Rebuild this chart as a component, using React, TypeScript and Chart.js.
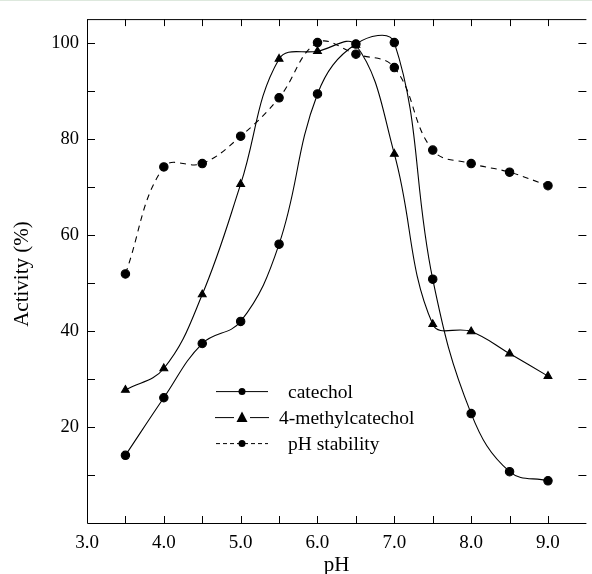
import React, { useEffect, useRef } from "react";
import { Chart, registerables } from "chart.js";

Chart.register(...registerables);

const pH = [3.5, 4.0, 4.5, 5.0, 5.5, 6.0, 6.5, 7.0, 7.5, 8.0, 8.5, 9.0];
const catechol = [14.1, 26.1, 37.4, 42.0, 58.1, 89.4, 99.8, 100.1, 50.8, 22.8, 10.7, 8.8];
const methylcatechol = [27.7, 32.2, 47.6, 70.6, 96.7, 98.3, 99.6, 76.9, 41.4, 39.9, 35.3, 30.6];
const stability = [51.9, 74.2, 74.9, 80.6, 88.6, 100.1, 97.7, 94.9, 77.7, 74.9, 73.1, 70.3];

const xTicks = [3, 4, 5, 6, 7, 8, 9];
const xMinorTicks = [3.5, 4, 4.5, 5, 5.5, 6, 6.5, 7, 7.5, 8, 8.5, 9];
const yTicks = [20, 40, 60, 80, 100];
const yMinorTicks = [10, 20, 30, 40, 50, 60, 70, 80, 90, 100];

const legendLabels = ["catechol", "4-methylcatechol", "pH stability"];
const xTitle = "pH";
const yTitle = "Activity (%)";

const FONT = "'Liberation Serif', 'Times New Roman', serif";

const framePlugin = {
  id: "frame",
  beforeDraw(chart: any) {
    const ctx = chart.ctx;
    ctx.save();
    ctx.fillStyle = "#dde8dd";
    ctx.fillRect(0, 0, chart.width, 1);
    ctx.restore();
  },
  afterDraw(chart: any) {
    const ctx = chart.ctx;
    const { left, right, top, bottom } = chart.chartArea;
    const xs = chart.scales.x;
    const ys = chart.scales.y;
    ctx.save();
    ctx.strokeStyle = "#000";
    ctx.lineWidth = 1;
    ctx.beginPath();
    ctx.moveTo(left + 0.5, top + 0.5);
    ctx.lineTo(right, top + 0.5);
    ctx.moveTo(left + 0.5, top);
    ctx.lineTo(left + 0.5, bottom + 0.5);
    ctx.lineTo(right, bottom + 0.5);
    ctx.stroke();
    ctx.beginPath();
    xMinorTicks.forEach((v) => {
      const px = Math.round(xs.getPixelForValue(v)) + 0.5;
      ctx.moveTo(px, bottom);
      ctx.lineTo(px, bottom - 7);
      ctx.moveTo(px, top);
      ctx.lineTo(px, top + 7);
    });
    yMinorTicks.forEach((v) => {
      const py = Math.round(ys.getPixelForValue(v)) + 0.5;
      ctx.moveTo(left, py);
      ctx.lineTo(left + 8, py);
      ctx.moveTo(right, py);
      ctx.lineTo(right - 8, py);
    });
    ctx.stroke();

    // axis titles
    ctx.fillStyle = "#000";
    ctx.font = `21px ${FONT}`;
    ctx.textAlign = "center";
    ctx.textBaseline = "alphabetic";
    ctx.fillText(xTitle, (left + right) / 2, chart.height - 3);
    ctx.save();
    ctx.translate(28, (top + bottom) / 2 + 3);
    ctx.rotate(-Math.PI / 2);
    ctx.fillText(yTitle, 0, 0);
    ctx.restore();

    // legend
    const lx = left + 129;
    const ly = top + 372;
    const gap = 26;
    ctx.font = `19.5px ${FONT}`;
    ctx.textAlign = "left";
    ctx.textBaseline = "middle";
    for (let i = 0; i < 3; i++) {
      const y = ly + i * gap + 0.5;
      const cx = lx + 26;
      ctx.lineWidth = 1;
      ctx.strokeStyle = "#000";
      ctx.fillStyle = "#000";
      if (i === 1) {
        ctx.beginPath();
        ctx.moveTo(lx - 1, y);
        ctx.lineTo(cx - 8, y);
        ctx.moveTo(cx + 8, y);
        ctx.lineTo(lx + 53, y);
        ctx.stroke();
        ctx.beginPath();
        ctx.moveTo(cx, y - 6);
        ctx.lineTo(cx + 5.5, y + 4.5);
        ctx.lineTo(cx - 5.5, y + 4.5);
        ctx.closePath();
        ctx.fill();
      } else {
        ctx.beginPath();
        if (i === 2) ctx.setLineDash([4, 3]);
        ctx.moveTo(lx, y);
        ctx.lineTo(lx + 52, y);
        ctx.stroke();
        ctx.setLineDash([]);
        ctx.beginPath();
        ctx.arc(cx, y, 3.5, 0, Math.PI * 2);
        ctx.fill();
      }
      const tx = i === 1 ? lx + 63 : lx + 72;
      ctx.fillText(legendLabels[i], tx, y + 1);
    }
    ctx.restore();
  },
};

export default function App() {
  const ref = useRef<HTMLCanvasElement>(null);
  useEffect(() => {
    document.body.style.margin = "0";
    const canvas = ref.current!;
    const common = {
      borderColor: "#000",
      backgroundColor: "#000",
      pointBackgroundColor: "#000",
      pointBorderColor: "#000",
      borderWidth: 1.1,
      tension: 0.4,
      fill: false,
    };
    const chart = new Chart(canvas, {
      type: "line",
      data: {
        datasets: [
          {
            ...common,
            label: legendLabels[0],
            data: pH.map((x, i) => ({ x, y: catechol[i] })),
            pointStyle: "circle",
            pointRadius: 4.2,
          },
          {
            ...common,
            label: legendLabels[1],
            data: pH.map((x, i) => ({ x, y: methylcatechol[i] })),
            pointStyle: "triangle",
            pointRadius: 4.5,
          },
          {
            ...common,
            label: legendLabels[2],
            data: pH.map((x, i) => ({ x, y: stability[i] })),
            pointStyle: "circle",
            pointRadius: 4.2,
            borderDash: [6, 5],
          },
        ],
      },
      options: {
        animation: false,
        responsive: false,
        devicePixelRatio: 1,
        layout: { padding: { top: 17, right: 1, left: 0, bottom: 0 } },
        plugins: { legend: { display: false }, tooltip: { enabled: false } },
        scales: {
          x: {
            type: "linear",
            min: 3,
            max: 9.5,
            grid: { display: false, drawTicks: false },
            border: { display: false },
            afterBuildTicks: (s: any) => {
              s.ticks = xTicks.map((v) => ({ value: v }));
            },
            afterFit: (s: any) => {
              s.height = 51;
            },
            ticks: {
              padding: 9,
              color: "#000",
              font: { family: FONT, size: 19 },
              callback: (v: any) => Number(v).toFixed(1),
              maxRotation: 0,
              autoSkip: false,
            },
          },
          y: {
            type: "linear",
            min: 0,
            max: 105,
            grid: { display: false, drawTicks: false },
            border: { display: false },
            afterBuildTicks: (s: any) => {
              s.ticks = yTicks.map((v) => ({ value: v }));
            },
            afterFit: (s: any) => {
              s.width = 87;
            },
            ticks: {
              padding: 8,
              color: "#000",
              font: { family: FONT, size: 18.5 },
              autoSkip: false,
            },
          },
        },
      },
      plugins: [framePlugin],
    });
    return () => chart.destroy();
  }, []);
  return <canvas ref={ref} width={592} height={574} style={{ display: "block" }} />;
}
